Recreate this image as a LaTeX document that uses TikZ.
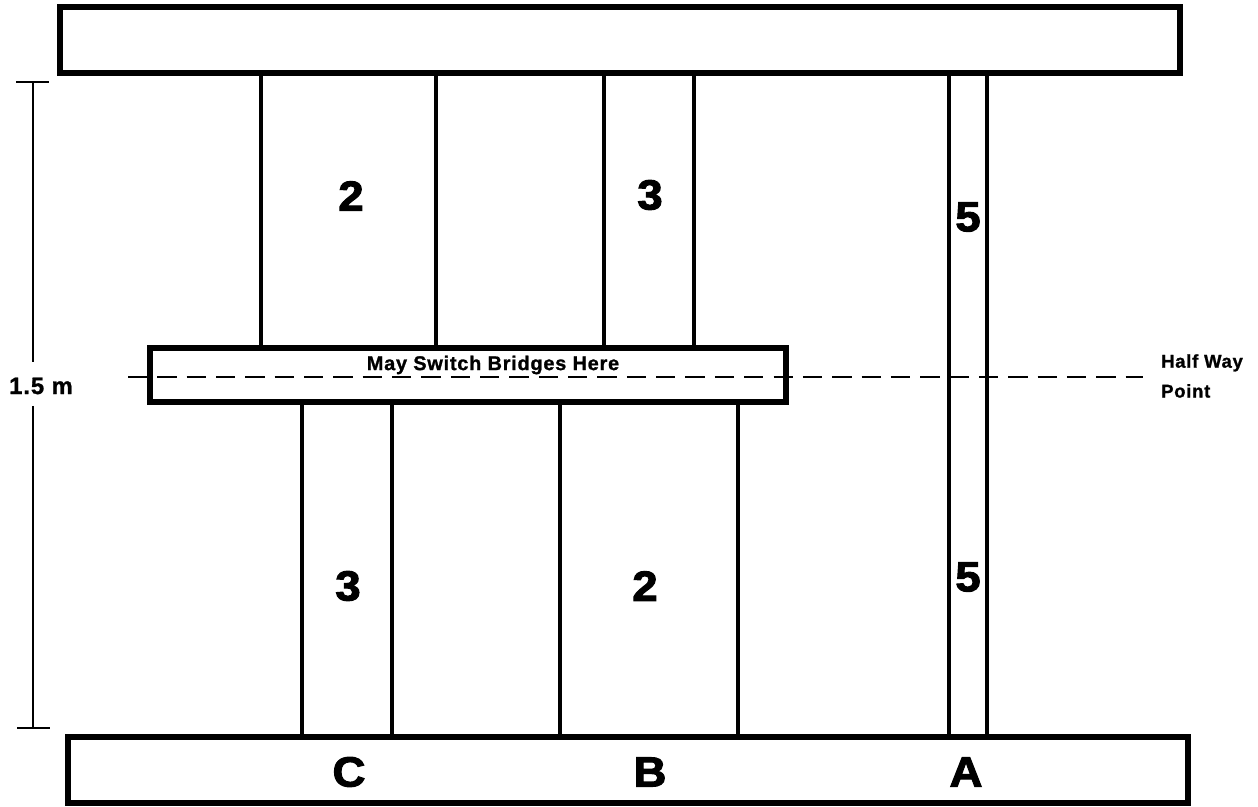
\documentclass[tikz,border=0pt]{standalone}
\usepackage{fontspec}
\setmainfont{Liberation Sans}
\newfontfamily\heavyfont[FakeBold=2.5, FakeStretch=1.08]{Liberation Sans Bold}
\newfontfamily\labelfont[FakeBold=1.2, LetterSpace=4]{Liberation Sans Bold}

\begin{document}
\begin{tikzpicture}[x=0.02cm, y=-0.02cm,
    bar/.style={draw, line width=3.4pt},
    post/.style={line width=2.7pt},
    dim/.style={line width=1.2pt},
    num/.style={font=\fontsize{24}{26}\heavyfont},
    small/.style={font=\fontsize{11.3}{13}\labelfont}]

    \useasboundingbox (0,0) rectangle (1258,807);

    % top and bottom bars
    \draw[bar] (60,7) rectangle (1180,73);
    \draw[bar] (68,737) rectangle (1188,803);

    % middle bar
    \draw[bar] (150,348) rectangle (786,402);

    % upper posts
    \draw[post] (261,73) -- (261,348);
    \draw[post] (436,73) -- (436,348);
    \draw[post] (604,73) -- (604,348);
    \draw[post] (694,73) -- (694,348);

    % lower posts
    \draw[post] (302,402) -- (302,737);
    \draw[post] (392,402) -- (392,737);
    \draw[post] (560,402) -- (560,737);
    \draw[post] (738,402) -- (738,737);

    % bridge A
    \draw[post] (949,73) -- (949,737);
    \draw[post] (987,73) -- (987,737);

    % half way line
    \draw[dash pattern=on 11pt off 5.7pt, line width=0.6pt] (128,377) -- (1143,377);
    \node[small] (switch) at (493,365) {May Switch Bridges Here};
    \node[font=\fontsize{10.5}{17}\labelfont, anchor=west, align=left] (half) at (1155,376) {Half Way\\Point};

    % dimension
    \draw[dim] (33,82) -- (33,362);
    \draw[dim] (33,406) -- (33,728);
    \draw[dim] (16,82) -- (49,82);
    \draw[dim] (17,728) -- (50,728);
    \node[font=\fontsize{13.5}{15}\labelfont] (height) at (41,386) {1.5 m};

    % widths
    \node[num] (w1) at (351,196) {2};
    \node[num] (w2) at (650,195) {3};
    \node[num] (w3) at (968,217) {5};
    \node[num] (w4) at (348,586) {3};
    \node[num] (w5) at (645,586) {2};
    \node[num] (w6) at (968,577) {5};

    % bridge names
    \node[num] (c) at (349,772) {C};
    \node[num] (b) at (650,772) {B};
    \node[num] (a) at (966,772) {A};

\end{tikzpicture}
\end{document}
